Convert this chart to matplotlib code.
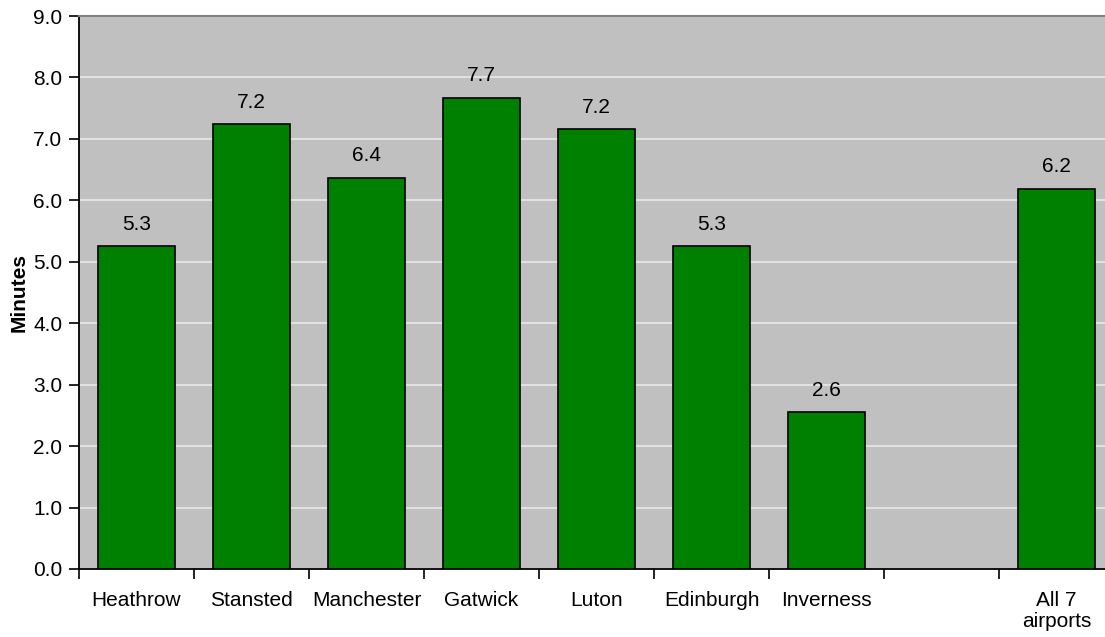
import matplotlib
matplotlib.use("Agg")
import matplotlib.pyplot as plt
import numpy as np

categories = ["Heathrow", "Stansted", "Manchester", "Gatwick", "Luton",
              "Edinburgh", "Inverness", "", "All 7\nairports"]
minutes = [5.26, 7.24, 6.37, 7.67, 7.16, 5.26, 2.55, None, 6.19]
labels = ["5.3", "7.2", "6.4", "7.7", "7.2", "5.3", "2.6", "", "6.2"]

plt.rcParams["font.family"] = ["Liberation Sans", "DejaVu Sans"]

fig = plt.figure(figsize=(11.05, 6.37), dpi=100)
ax = fig.add_axes([79 / 1105, 1 - 569 / 637, 1035 / 1105, 553 / 637])
ax.set_facecolor("#C0C0C0")

x = np.arange(len(categories))
for xi, v, lab in zip(x, minutes, labels):
    if v is None:
        continue
    ax.bar(xi, v, width=0.67, color="#008000", edgecolor="black", linewidth=1.2, zorder=3)
    ax.text(xi, v + 0.2, lab, ha="center", va="bottom", fontsize=15, zorder=4)

ax.set_xlim(-0.5, len(categories) - 0.5)
ax.set_ylim(0, 9)
ax.set_yticks(np.arange(0, 9.01, 1.0))
ax.set_yticklabels(["%.1f" % t for t in np.arange(0, 9.01, 1.0)], fontsize=15)
ax.yaxis.grid(True, color="#E8E8E8", linewidth=1.2, zorder=0)
ax.set_axisbelow(True)

ax.set_xticks(x)
ax.set_xticklabels(categories, fontsize=15, linespacing=1.15)
ax.set_xticks(np.arange(-0.5, len(categories) + 0.5, 1), minor=True)
ax.tick_params(axis="x", which="major", length=0, pad=16)
ax.tick_params(axis="x", which="minor", length=7, width=1.2, direction="out")
ax.tick_params(axis="y", length=7, width=1.2, direction="out", pad=5)

ax.set_ylabel("Minutes", fontsize=15, fontweight="bold", labelpad=3)

ax.spines["left"].set_color("black")
ax.spines["left"].set_linewidth(1.3)
ax.spines["bottom"].set_color("black")
ax.spines["bottom"].set_linewidth(1.3)
ax.spines["top"].set_color("#808080")
ax.spines["top"].set_linewidth(1.5)
ax.spines["right"].set_visible(False)

fig.savefig("out.png", dpi=100)
